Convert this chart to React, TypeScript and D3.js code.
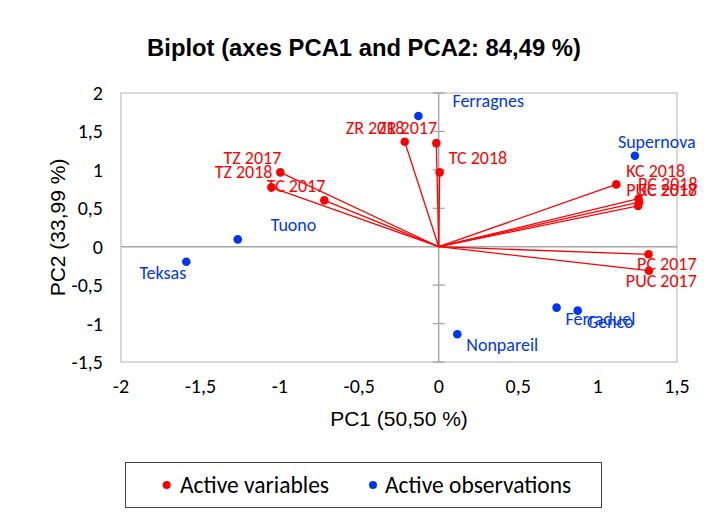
import React from "react";
import * as d3 from "d3";

// ---- data ----
const variableNames = [
  "ZR 2018", "ZR 2017", "TC 2018", "TZ 2017", "TZ 2018", "TC 2017",
  "KC 2018", "PC 2018", "PUC 2018", "KC 2017", "PC 2017", "PUC 2017",
];
const variablePC1 = [-0.214, -0.015, 0.006, -0.997, -1.053, -0.72, 1.118, 1.258, 1.262, 1.255, 1.321, 1.323];
const variablePC2 = [1.365, 1.348, 0.967, 0.967, 0.772, 0.603, 0.811, 0.625, 0.58, 0.53, -0.099, -0.312];

const observationNames = ["Ferragnes", "Supernova", "Tuono", "Teksas", "Nonpareil", "Ferraduel", "Genco"];
const observationPC1 = [-0.128, 1.235, -1.265, -1.589, 0.117, 0.742, 0.875];
const observationPC2 = [1.7, 1.183, 0.096, -0.195, -1.139, -0.793, -0.832];

const xTicks = [-2, -1.5, -1, -0.5, 0, 0.5, 1, 1.5];
const yTicks = [-1.5, -1, -0.5, 0, 0.5, 1, 1.5, 2];

const titleText = "Biplot (axes PCA1 and PCA2: 84,49 %)";
const xTitle = "PC1 (50,50 %)";
const yTitle = "PC2 (33,99 %)";
const legendLabels = ["Active variables", "Active observations"];

// ---- layout (label placement, px) ----
type LP = { dx: number; dy: number; anchor: "start" | "end" | "middle" };
const variableLabelPos: LP[] = [
  { dx: -59, dy: -14, anchor: "start" },
  { dx: -58, dy: -15, anchor: "start" },
  { dx: 9, dy: -14, anchor: "start" },
  { dx: 1, dy: -14, anchor: "end" },
  { dx: 1, dy: -15, anchor: "end" },
  { dx: 1, dy: -14, anchor: "end" },
  { dx: 10, dy: -13, anchor: "start" },
  { dx: 59, dy: -15, anchor: "end" },
  { dx: 58, dy: -12, anchor: "end" },
  { dx: 59, dy: -16, anchor: "end" },
  { dx: 48, dy: 10, anchor: "end" },
  { dx: 48, dy: 10, anchor: "end" },
];
const observationLabelPos: LP[] = [
  { dx: 34, dy: -15, anchor: "start" },
  { dx: -17, dy: -14, anchor: "start" },
  { dx: 33, dy: -14, anchor: "start" },
  { dx: 0, dy: 11, anchor: "end" },
  { dx: 9, dy: 11, anchor: "start" },
  { dx: 9, dy: 11, anchor: "start" },
  { dx: 9, dy: 11, anchor: "start" },
];

const W = 709;
const H = 516;
const RED = "#ff0000";
const BLUE = "#0036f2";
const LABEL_FONT = "Carlito, Calibri, Lato, sans-serif";
const ARIAL = "'Liberation Sans', Arial, sans-serif";

const fmt = (v: number) => String(v).replace(".", ",");

export default function App() {
  const x = d3.scaleLinear().domain([-2, 1.5]).range([121, 677]);
  const y = d3.scaleLinear().domain([-1.5, 2]).range([362, 93]);
  const x0 = x(0);
  const y0 = y(0);

  return (
    <svg
      width={W}
      height={H}
      style={{ position: "absolute", left: 0, top: 0, background: "#fff" }}
    >
      <rect x={0} y={0} width={W} height={H} fill="#fff" />
      <text
        x={364}
        y={47}
        textAnchor="middle"
        dominantBaseline="central"
        fontFamily={ARIAL}
        fontWeight="bold"
        fontSize={23.8}
        fill="#000"
      >
        {titleText}
      </text>

      {/* plot box */}
      <rect
        x={x(-2)}
        y={y(2)}
        width={x(1.5) - x(-2)}
        height={y(-1.5) - y(2)}
        fill="none"
        stroke="#c4c4c4"
        strokeWidth={1.3}
      />
      {/* zero lines */}
      <line x1={x(-2)} x2={x(1.5)} y1={y0} y2={y0} stroke="#a6a6a6" strokeWidth={1.4} />
      <line x1={x0} x2={x0} y1={y(2)} y2={y(-1.5)} stroke="#a6a6a6" strokeWidth={1.4} />
      {yTicks.map((t) => (
        <line key={"yt" + t} x1={x0 - 6} x2={x0 + 6} y1={y(t)} y2={y(t)} stroke="#a6a6a6" strokeWidth={1.3} />
      ))}

      {/* tick labels */}
      {yTicks.map((t) => (
        <text
          key={"yl" + t}
          x={103}
          y={y(t)}
          textAnchor="end"
          dominantBaseline="central"
          fontFamily={LABEL_FONT}
          fontSize={20}
          fill="#000"
        >
          {fmt(t)}
        </text>
      ))}
      {xTicks.map((t) => (
        <text
          key={"xl" + t}
          x={x(t)}
          y={386}
          textAnchor="middle"
          dominantBaseline="central"
          fontFamily={LABEL_FONT}
          fontSize={20}
          fill="#000"
        >
          {fmt(t)}
        </text>
      ))}

      {/* axis titles */}
      <text
        x={(x(-2) + x(1.5)) / 2}
        y={418}
        textAnchor="middle"
        dominantBaseline="central"
        fontFamily={ARIAL}
        fontSize={21}
        fill="#000"
      >
        {xTitle}
      </text>
      <text
        transform={`translate(57,${(y(2) + y(-1.5)) / 2}) rotate(-90)`}
        textAnchor="middle"
        dominantBaseline="central"
        fontFamily={ARIAL}
        fontSize={21}
        fill="#000"
      >
        {yTitle}
      </text>

      {/* variable vectors */}
      {variableNames.map((n, i) => (
        <line
          key={"vl" + n}
          x1={x0}
          y1={y0}
          x2={x(variablePC1[i])}
          y2={y(variablePC2[i])}
          stroke={RED}
          strokeWidth={1.3}
        />
      ))}
      {variableNames.map((n, i) => (
        <circle key={"vc" + n} cx={x(variablePC1[i])} cy={y(variablePC2[i])} r={4.3} fill={RED} />
      ))}
      {observationNames.map((n, i) => (
        <circle key={"oc" + n} cx={x(observationPC1[i])} cy={y(observationPC2[i])} r={4.3} fill={BLUE} />
      ))}
      {variableNames.map((n, i) => (
        <text
          key={"vt" + n}
          x={x(variablePC1[i]) + variableLabelPos[i].dx}
          y={y(variablePC2[i]) + variableLabelPos[i].dy}
          textAnchor={variableLabelPos[i].anchor}
          dominantBaseline="central"
          fontFamily={LABEL_FONT}
          fontSize={18}
          fill={RED}
        >
          {n}
        </text>
      ))}
      {observationNames.map((n, i) => (
        <text
          key={"ot" + n}
          x={x(observationPC1[i]) + observationLabelPos[i].dx}
          y={y(observationPC2[i]) + observationLabelPos[i].dy}
          textAnchor={observationLabelPos[i].anchor}
          dominantBaseline="central"
          fontFamily={LABEL_FONT}
          fontSize={18}
          fill={BLUE}
        >
          {n}
        </text>
      ))}

      {/* legend */}
      <rect x={125.5} y={462.5} width={476} height={45} fill="#fff" stroke="#404040" strokeWidth={1} />
      <circle cx={166.7} cy={485} r={4} fill={RED} />
      <text x={180} y={485} dominantBaseline="central" fontFamily={LABEL_FONT} fontSize={23.5} fill="#000">
        {legendLabels[0]}
      </text>
      <circle cx={373} cy={485} r={4} fill={BLUE} />
      <text x={385} y={485} dominantBaseline="central" fontFamily={LABEL_FONT} fontSize={23.5} fill="#000">
        {legendLabels[1]}
      </text>
    </svg>
  );
}
